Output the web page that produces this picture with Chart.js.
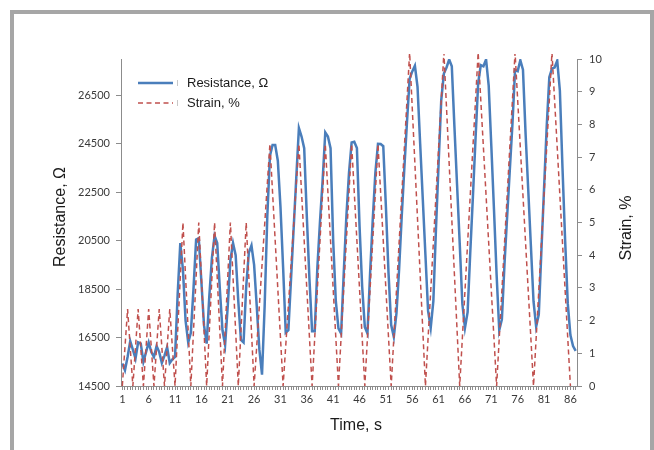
<!DOCTYPE html>
<html>
<head>
<meta charset="utf-8">
<script src="https://cdn.jsdelivr.net/npm/chart.js@4.4.1/dist/chart.umd.min.js"></script>
<style>
html,body{margin:0;padding:0;background:#fff;width:654px;height:450px;overflow:hidden}
#frame{position:absolute;left:10px;top:10px;width:636px;height:470px;border:4px solid #a6a6a6;border-bottom:none;background:#fff}
#c{position:absolute;left:0;top:0}
</style>
</head>
<body>
<div id="frame"></div>
<canvas id="c" width="654" height="450"></canvas>
<script>
// Time, s (categories)
const times = [
  1,1.5,2,2.5,3,3.5,4,4.5,5,5.5,
  6,6.5,7,7.5,8,8.5,9,9.5,10,10.5,
  11,11.5,12,12.5,13,13.5,14,14.5,15,15.5,
  16,16.5,17,17.5,18,18.5,19,19.5,20,20.5,
  21,21.5,22,22.5,23,23.5,24,24.5,25,25.5,
  26,26.5,27,27.5,28,28.5,29,29.5,30,30.5,
  31,31.5,32,32.5,33,33.5,34,34.5,35,35.5,
  36,36.5,37,37.5,38,38.5,39,39.5,40,40.5,
  41,41.5,42,42.5,43,43.5,44,44.5,45,45.5,
  46,46.5,47,47.5,48,48.5,49,49.5,50,50.5,
  51,51.5,52,52.5,53,53.5,54,54.5,55,55.5,
  56,56.5,57,57.5,58,58.5,59,59.5,60,60.5,
  61,61.5,62,62.5,63,63.5,64,64.5,65,65.5,
  66,66.5,67,67.5,68,68.5,69,69.5,70,70.5,
  71,71.5,72,72.5,73,73.5,74,74.5,75,75.5,
  76,76.5,77,77.5,78,78.5,79,79.5,80,80.5,
  81,81.5,82,82.5,83,83.5,84,84.5,85,85.5,
  86,86.5,87
];

// Resistance, Ohm
const resistance = [
  15430,15150,15700,16350,16000,15630,16300,16250,15500,15900,
  16300,15900,15700,16150,15900,15450,15750,16100,15450,15600,
  15700,18300,20400,19300,17200,16300,16700,18500,20550,20600,
  18800,17000,16250,18200,19800,20700,20400,18500,16800,16200,
  17800,19700,20400,19900,18000,16400,16300,18600,20000,20300,
  19500,17800,16000,14970,17800,21500,24000,24450,24450,23800,
  21900,19400,16700,16800,18900,21000,23100,25150,24800,24320,
  21500,18900,16760,16760,19400,21300,23000,24970,24800,24320,
  20500,18000,16880,16670,19150,21500,23300,24550,24580,24320,
  21100,18600,16940,16670,19150,21350,23300,24500,24490,24400,
  21900,19150,17020,16530,17500,19300,21500,23500,25400,27180,
  27490,27720,26850,24500,22200,19900,17600,16900,18000,21000,
  23700,26300,27400,27650,27980,27700,25200,22800,20400,17900,
  16900,17550,20000,22300,24700,27000,27750,27700,27980,26900,
  24400,21800,19100,16800,17250,19550,21500,23400,25300,27550,
  27500,27950,27560,24900,22600,20300,18000,16950,17450,20100,
  22650,25200,27250,27600,27650,27930,26700,23500,20500,17900,
  16600,16150,15950
];

// Strain, %
const strain = [
  0,1.18,2.35,1.18,0,1.18,2.35,1.18,0,1.18,
  2.35,1.18,0,1.18,2.35,1.18,0,1.18,2.35,1.18,
  0,1.67,3.33,5,3.33,1.67,0,1.67,3.33,5,
  3.33,1.67,0,1.67,3.33,5,3.33,1.67,0,1.67,
  3.33,5,3.33,1.67,0,1.67,3.33,5,3.33,1.67,
  0,1.23,2.47,3.7,4.93,6.17,7.4,5.92,4.44,2.96,
  1.48,0,1.23,2.47,3.7,4.93,6.17,7.4,5.92,4.44,
  2.96,1.48,0,1.48,2.96,4.44,5.92,7.4,5.92,4.44,
  2.96,1.48,0,1.48,2.96,4.44,5.92,7.4,5.92,4.44,
  2.96,1.48,0,1.48,2.96,4.44,5.92,7.4,5.92,4.44,
  2.96,1.48,0,1.46,2.91,4.37,5.83,7.29,8.74,10.2,
  8.5,6.8,5.1,3.4,1.7,0,1.46,2.91,4.37,5.83,
  7.29,8.74,10.2,8.5,6.8,5.1,3.4,1.7,0,1.46,
  2.91,4.37,5.83,7.29,8.74,10.2,8.74,7.29,5.83,4.37,
  2.91,1.46,0,1.46,2.91,4.37,5.83,7.29,8.74,10.2,
  8.74,7.29,5.83,4.37,2.91,1.46,0,1.46,2.91,4.37,
  5.83,7.29,8.74,10.2,8.74,7.29,5.83,4.37,2.91,1.46,
  0,null,null
];

// Tick labels
const xTickLabels = [1,6,11,16,21,26,31,36,41,46,51,56,61,66,71,76,81,86];
const resistanceTicks = [14500,16500,18500,20500,22500,24500,26500];
const strainTicks = [0,1,2,3,4,5,6,7,8,9,10];

const xTitle = 'Time, s';
const leftTitle = 'Resistance, Ω';
const rightTitle = 'Strain, %';

const AXIS = '#8c8c8c';
const TICKFONT = {family: 'Lato, "Open Sans", sans-serif', size: 11};
const TICKCOLOR = '#3a3a3a';
const TEXTFONT = '"Liberation Sans", Arial, sans-serif';

const decor = {
  id: 'decor',
  afterDraw(chart) {
    const ctx = chart.ctx;
    const ca = chart.chartArea;
    ctx.save();
    ctx.fillStyle = '#1a1a1a';
    ctx.font = '16px ' + TEXTFONT;
    ctx.textAlign = 'center';
    ctx.textBaseline = 'middle';
    ctx.fillText(xTitle, 356, 426);
    ctx.save(); ctx.translate(61, 217); ctx.rotate(-Math.PI / 2); ctx.fillText(leftTitle, 0, 0); ctx.restore();
    ctx.save(); ctx.translate(627, 228); ctx.rotate(-Math.PI / 2); ctx.fillText(rightTitle, 0, 0); ctx.restore();

    // legend inside plot area
    const x0 = ca.left + 17, x1 = ca.left + 52, tx = ca.left + 66;
    const rows = [83, 103];
    ctx.font = '13px ' + TEXTFONT;
    ctx.textAlign = 'left';
    chart.data.datasets.forEach((ds, i) => {
      const y = rows[i];
      ctx.save();
      ctx.strokeStyle = ds.borderColor;
      ctx.lineWidth = ds.borderWidth;
      ctx.setLineDash(ds.borderDash || []);
      ctx.beginPath(); ctx.moveTo(x0, y); ctx.lineTo(x1, y); ctx.stroke();
      ctx.restore();
      ctx.save();
      ctx.strokeStyle = '#c8c8c8'; ctx.lineWidth = 1;
      ctx.beginPath(); ctx.moveTo(ca.left + 56.5, y - 3); ctx.lineTo(ca.left + 56.5, y + 3); ctx.stroke();
      ctx.restore();
      ctx.fillStyle = '#1a1a1a';
      ctx.fillText(ds.label, tx, y + 0.5);
    });
    ctx.restore();
  }
};

new Chart(document.getElementById('c'), {
  type: 'line',
  data: {
    datasets: [
      {
        label: 'Resistance, Ω',
        data: times.map((t, i) => ({x: t, y: resistance[i]})),
        yAxisID: 'yR',
        borderColor: '#4a7ebb',
        borderWidth: 2.5,
        pointRadius: 0,
        tension: 0,
        fill: false,
        order: 1
      },
      {
        label: 'Strain, %',
        data: times.map((t, i) => ({x: t, y: strain[i]})),
        yAxisID: 'yS',
        borderColor: '#c0504d',
        borderWidth: 1.5,
        borderDash: [5, 3.5],
        pointRadius: 0,
        tension: 0,
        fill: false,
        clip: 5,
        order: 0
      }
    ]
  },
  options: {
    responsive: false,
    animation: false,
    devicePixelRatio: 1,
    layout: {padding: {top: 59, left: 0, right: 0, bottom: 0}},
    plugins: {legend: {display: false}, tooltip: {enabled: false}, title: {display: false}},
    scales: {
      x: {
        type: 'linear', position: 'bottom', min: 0.75, max: 87.25,
        afterBuildTicks: s => { s.ticks = times.map(v => ({value: v})); },
        afterFit: s => { s.height = 64; },
        grid: {drawOnChartArea: false, drawTicks: true, tickLength: 4, color: AXIS},
        border: {display: true, color: AXIS},
        ticks: {
          autoSkip: false, maxRotation: 0, minRotation: 0, padding: 3,
          font: TICKFONT, color: TICKCOLOR,
          callback: v => xTickLabels.includes(v) ? String(v) : ''
        }
      },
      yR: {
        type: 'linear', position: 'left', min: 14500, max: 28000,
        afterBuildTicks: s => { s.ticks = resistanceTicks.map(v => ({value: v})); },
        afterFit: s => { s.width = 121; },
        grid: {drawOnChartArea: false, drawTicks: true, tickLength: 5, color: AXIS},
        border: {display: true, color: AXIS},
        ticks: {padding: 6, font: TICKFONT, color: TICKCOLOR, callback: v => String(v)}
      },
      yS: {
        type: 'linear', position: 'right', min: 0, max: 10,
        afterBuildTicks: s => { s.ticks = strainTicks.map(v => ({value: v})); },
        afterFit: s => { s.width = 77; },
        grid: {drawOnChartArea: false, drawTicks: true, tickLength: 5, color: AXIS},
        border: {display: true, color: AXIS},
        ticks: {padding: 7, font: TICKFONT, color: TICKCOLOR, callback: v => String(v)}
      }
    }
  },
  plugins: [decor]
});
</script>
</body>
</html>
